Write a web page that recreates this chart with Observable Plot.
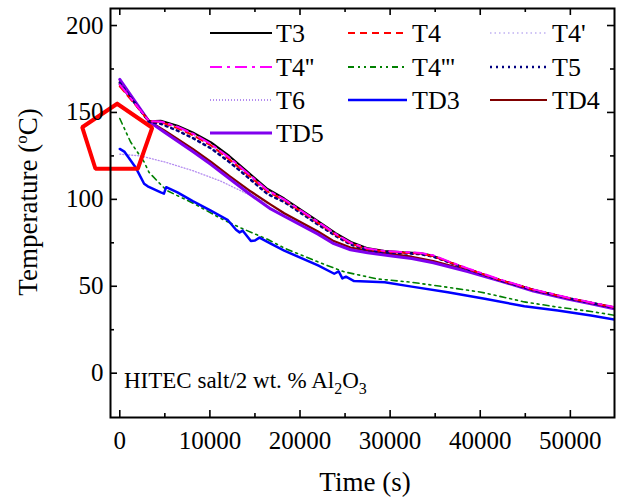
<!DOCTYPE html>
<html><head><meta charset="utf-8">
<script src="https://cdn.jsdelivr.net/npm/d3@7"></script>
<script src="https://cdn.jsdelivr.net/npm/@observablehq/plot@0.6"></script>
<style>body{margin:0;background:#fff} svg text{font-family:'Liberation Serif','Times New Roman',serif !important;}</style>
</head><body><div id="chart"></div>
<script>
// ---- data: [time (s), temperature (°C)] ----
const T3 = [[0,166],[3250,145],[4550,145.2],[6400,142.4],[8100,138.5],[10130,132.8],[12150,125],[13800,117.6],[16400,106],[18250,100.5],[22000,87.5],[24000,80.5],[25650,75.5],[27400,72],[29400,70.3],[31500,69.5],[33400,69],[34800,67.5],[36500,64],[38600,60],[42250,53.5],[45900,48],[49700,43.3],[52300,40.5],[54900,37.8]];
const T4 = [[0,165],[3250,145],[4550,144.5],[6400,141],[8100,137],[10130,131],[12150,123],[13800,116],[16400,104.5],[18250,99.5],[22000,86.5],[24000,79.5],[25650,74.5],[27400,71.5],[29400,70],[31500,69.3],[33400,68.8],[34800,67.3],[36500,64],[38600,60],[42250,53.5],[45900,48],[49700,43.3],[52300,40.5],[54900,37.8]];
const T4p = [[0,165.5],[3250,145],[4550,144.3],[6400,140.8],[8100,136.8],[10130,130.8],[12150,122.8],[13800,115.8],[16400,104.3],[18250,99.3],[22000,86.3],[24000,79.3],[25650,74.3],[27400,71.3],[29400,69.8],[31500,69.1],[33400,68.6],[34800,67.1],[36500,63.8],[38600,59.8],[42250,53.3],[45900,47.8],[49700,43.1],[52300,40.3],[54900,37.6]];
const T4pp = [[0,166],[3250,145],[4550,144.8],[6400,141.8],[8100,137.8],[10130,131.8],[12150,124],[13800,116.8],[16400,105.3],[18250,100],[22000,87],[24000,80],[25650,75],[27400,71.8],[29400,70.3],[31500,69.7],[33400,69.2],[34800,67.8],[36500,64.3],[38600,60.3],[42250,53.8],[45900,48.2],[49700,43.5],[52300,40.7],[54900,38]];
const T4ppp = [[0,146.5],[1200,133],[2700,121.5],[3250,115.5],[4550,108.5],[5250,105],[8250,97.5],[11200,89],[13450,83.5],[16400,77],[18250,72],[22000,64],[24900,58.3],[28600,54.2],[32400,52.3],[36400,49.4],[40100,46.6],[41500,45],[44900,41],[48600,38],[52300,35.5],[54900,33.3]];
const T5 = [[0,167],[3250,144.5],[4550,143.5],[6400,139.5],[8100,135.3],[10130,129.3],[12150,121.5],[13800,114.5],[16400,103],[18250,98.5],[22000,85.5],[24000,78.8],[25650,74],[27400,71],[29400,69.5],[31500,69],[33400,68.5],[34800,67],[36500,63.8],[38600,59.8],[42250,53.3],[45900,47.8],[49700,43.2],[52300,40.4],[54900,37.7]];
const T6 = [[0,126],[2300,125],[5000,121.5],[8100,116.5],[11200,110.5],[13800,104],[15700,99.5],[17200,95.5],[18250,91.5],[22000,80.8],[23750,75.5],[25600,71.8],[27500,70],[30400,67.8],[32400,66.5],[34800,64],[38600,59],[42250,53.3],[45900,47.6],[49700,42.8],[52300,40],[54900,37.2]];
const TD3 = [[0,129],[500,127.5],[1800,118],[2700,109],[3100,107.5],[4550,104],[4900,103.3],[5150,107],[6400,104],[8100,99],[10100,93.5],[12000,88],[12900,82.5],[13300,81],[13650,82],[14550,76],[15000,76.3],[15500,78],[16750,74.5],[18250,70.5],[22000,62],[23800,57.2],[24300,58.5],[24700,54.5],[25100,55.5],[26000,53],[29400,52.3],[32400,49.8],[36400,46.6],[40500,42.8],[44900,38.5],[48600,36],[52300,33.2],[54900,30.8]];
const TD4 = [[0,167.5],[3250,145],[5000,139.5],[8100,129],[10130,121.5],[12150,113.5],[14550,104.5],[16750,97],[18250,92],[22000,81.5],[23750,76],[25600,72.3],[27500,70.5],[30400,68.3],[32400,67],[34800,64.5],[38600,59.2],[42250,53.5],[45900,47.8],[49700,43],[52300,40.2],[54900,37.3]];
const TD5 = [[0,169],[3250,144.8],[5000,138.5],[8100,127.5],[10130,120],[12150,112],[14550,102.5],[16750,94.5],[18250,90.3],[22000,80],[23750,74.5],[25600,71],[27500,69.3],[30400,67.3],[32400,66],[34800,63.5],[38600,58.5],[42250,53],[45900,47.3],[49700,42.6],[52300,39.9],[54900,37]];

// annotation pentagon vertices (time, temperature)
const highlight = [[-290,155],[3600,141.2],[2000,117.6],[-2700,117.6],[-4170,141.5],[-290,155]];

const seriesNames = ["T3","T4","T4'","T4''","T4'''","T5","T6","TD3","TD4","TD5"];
const seriesData  = [T3, T4, T4p, T4pp, T4ppp, T5, T6, TD3, TD4, TD5];
const seriesColors = ["#000000","#ff0000","#cfc4f5","#ff00ff","#008000","#000080","#b48cf0","#0000ff","#800000","#8000ee"];
const seriesWidths = [2, 2, 1.5, 2, 1.6, 2.5, 1.3, 2.5, 2.2, 3];
const seriesDash   = [null, "7,5", "1.5,3", "12,5,3,5", "6,4,2,4,2,4", "2,4", "1,2", null, null, null];
const drawOrder = [6, 2, 8, 9, 0, 5, 1, 3, 4, 7];

const xMajorTicks = [0, 10000, 20000, 30000, 40000, 50000];
const xMinorTicks = [5000, 15000, 25000, 35000, 45000];
const yMajorTicks = [0, 50, 100, 150, 200];
const yMinorTicks = [25, 75, 125, 175];

const W = 624, H = 501, mL = 110, mR = 10, mT = 8, mB = 84;
const iW = W - mL - mR, iH = H - mT - mB;
const font = "'Liberation Serif', 'Times New Roman', serif";

const rows = seriesNames.map((name, i) => seriesData[i].map(([t, v]) => ({series: name, t, v})));

const marks = [];
for (const i of drawOrder) {
  marks.push(Plot.line(rows[i], {x: "t", y: "v", stroke: seriesColors[i], strokeWidth: seriesWidths[i],
    strokeDasharray: seriesDash[i] ?? undefined, strokeLinejoin: "round", clip: true}));
}
marks.push(Plot.line(highlight, {x: d => d[0], y: d => d[1], stroke: "#ff0000", strokeWidth: 4, strokeLinejoin: "miter", clip: false}));
// inward ticks on all four sides
const tk = {stroke: "black", strokeWidth: 1.6};
marks.push(Plot.tickX(xMajorTicks, {x: d => d, insetTop: iH - 7, ...tk}));
marks.push(Plot.tickX(xMajorTicks, {x: d => d, insetBottom: iH - 7, ...tk}));
marks.push(Plot.tickX(xMinorTicks, {x: d => d, insetTop: iH - 4, ...tk}));
marks.push(Plot.tickX(xMinorTicks, {x: d => d, insetBottom: iH - 4, ...tk}));
marks.push(Plot.tickY(yMajorTicks, {y: d => d, insetRight: iW - 7, ...tk}));
marks.push(Plot.tickY(yMajorTicks, {y: d => d, insetLeft: iW - 7, ...tk}));
marks.push(Plot.tickY(yMinorTicks, {y: d => d, insetRight: iW - 4, ...tk}));
marks.push(Plot.tickY(yMinorTicks, {y: d => d, insetLeft: iW - 4, ...tk}));
marks.push(Plot.axisX(xMajorTicks, {tickSize: 0, tickPadding: 14, fontSize: 25, fontFamily: font, tickFormat: d => String(d), label: null}));
marks.push(Plot.axisY(yMajorTicks, {tickSize: 0, tickPadding: 7, fontSize: 25, fontFamily: font, tickFormat: d => String(d), label: null}));
marks.push(Plot.frame({stroke: "black", strokeWidth: 2}));

const svg = Plot.plot({
  width: W, height: H,
  marginLeft: mL, marginRight: mR, marginTop: mT, marginBottom: mB,
  style: {fontFamily: font, fontSize: "25px", color: "black", background: "white"},
  x: {domain: [-1030, 54900]},
  y: {domain: [-25.5, 209.8]},
  marks
});
document.getElementById("chart").appendChild(svg);

const sel = d3.select(svg);

// axis titles
const yl = sel.append("text").attr("transform", `translate(37,202) rotate(-90)`)
  .attr("text-anchor", "middle").attr("font-size", 27).attr("fill", "black");
yl.append("tspan").text("Temperature (");
yl.append("tspan").attr("font-size", 17).attr("dy", -10).text("o");
yl.append("tspan").attr("dy", 10).text("C)");
sel.append("text").attr("x", mL + iW / 2 + 3).attr("y", 491).attr("text-anchor", "middle")
  .attr("font-size", 27).attr("fill", "black").text("Time (s)");

// sample label
const note = sel.append("text").attr("x", mL + 14).attr("y", 388).attr("font-size", 23)
  .attr("text-anchor", "start").attr("fill", "black");
note.append("tspan").text("HITEC salt/2 wt. % Al");
note.append("tspan").attr("font-size", 16).attr("dy", 6).text("2");
note.append("tspan").attr("dy", -6).text("O");
note.append("tspan").attr("font-size", 16).attr("dy", 6).text("3");

// legend: 3 columns, row-major
const colLine = [[210, 272], [348, 407], [490, 547]];
const colText = [276, 412, 552];
const rowY = [33, 67, 100, 133];
const lg = sel.append("g");
seriesNames.forEach((name, i) => {
  const r = Math.floor(i / 3), c = i % 3;
  lg.append("line").attr("x1", colLine[c][0]).attr("x2", colLine[c][1]).attr("y1", rowY[r]).attr("y2", rowY[r])
    .attr("stroke", seriesColors[i]).attr("stroke-width", Math.max(2, seriesWidths[i]))
    .attr("stroke-dasharray", seriesDash[i]);
  lg.append("text").attr("x", colText[c]).attr("y", rowY[r] + 9).attr("font-size", 26)
    .attr("text-anchor", "start").attr("fill", "black").text(name);
});
sel.selectAll("text").style("font-family", font);
</script></body></html>
